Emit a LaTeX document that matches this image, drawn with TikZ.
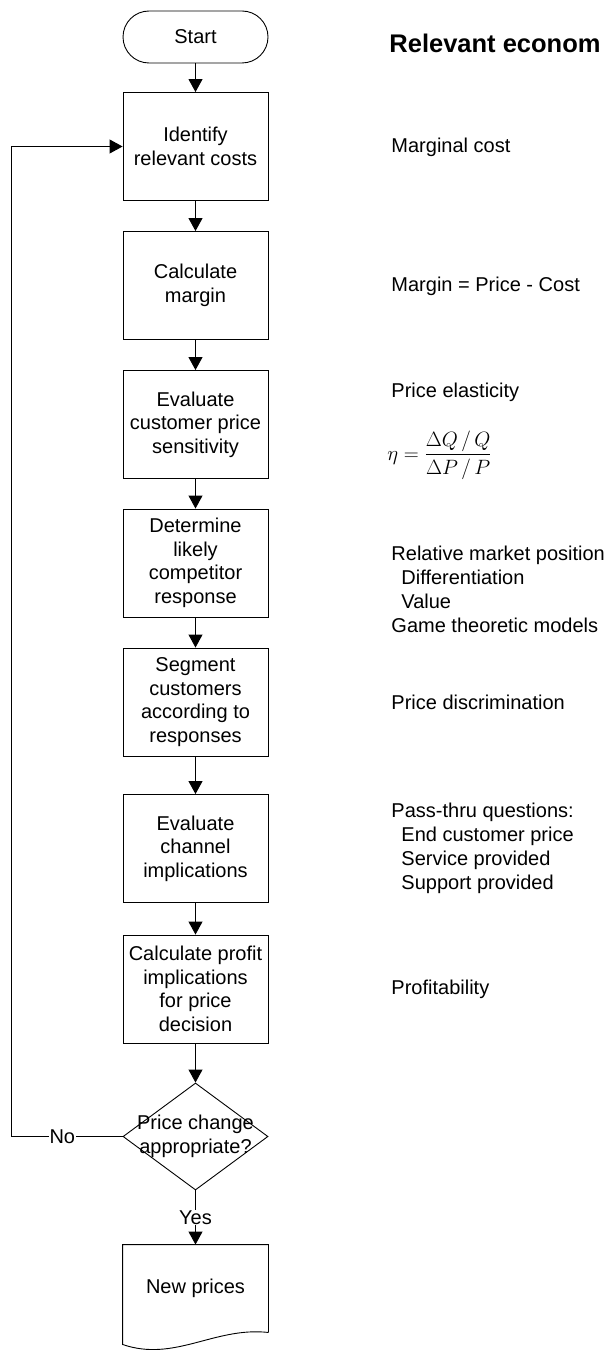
\documentclass[tikz,border=0pt]{standalone}
\usepackage{amsmath}
\usepackage{fontspec}
\setmainfont{Liberation Sans}
\usetikzlibrary{arrows.meta,shapes.geometric,calc}

\begin{document}
\begin{tikzpicture}[x=1pt,y=-1pt,line width=.9pt,>={Triangle[width=14pt,length=13pt]},
  every node/.style={font=\fontsize{20}{23.5}\selectfont},
  terminal/.style={draw,rounded corners=26pt,minimum width=145pt,minimum height=52pt},
  stepbox/.style={draw,align=center,minimum width=145pt,minimum height=108pt,inner sep=2pt},
  decision/.style={draw,diamond,minimum width=145pt,minimum height=107pt,inner sep=0pt},
  note/.style={anchor=west,align=left,inner sep=0pt,font=\fontsize{20}{24}\selectfont},
  tag/.style={fill=white,inner sep=1pt}]
% Page frame: one unit is one pixel of the sheet, y runs down.
\useasboundingbox (0,0) rectangle (608,1351);
\node[terminal] (start) at (195.5,37) {Start};
\node[stepbox] (b1) at (195.5,146.5) {Identify\\relevant costs};
\node[stepbox] (b2) at (195.5,285.5) {Calculate\\margin};
\node[stepbox] (b3) at (195.5,424.5) {Evaluate\\customer price\\sensitivity};
\node[stepbox] (b4) at (195.5,563) {Determine\\likely\\competitor\\response};
\node[stepbox] (b5) at (195.5,702) {Segment\\customers\\according to\\responses};
\node[stepbox] (b6) at (195.5,848.5) {Evaluate\\channel\\implications};
\node[stepbox] (b7) at (195.5,989) {Calculate profit\\implications\\for price\\decision};
\node[decision] (dec) at (195.5,1136.5) {};
\node[align=center] (dectext) at (dec) {Price change\\appropriate?};
\node[minimum width=145pt,minimum height=87pt,inner sep=0pt] (doc) at (195.5,1288.5) {New prices};
\draw (doc.south east) -- (doc.north east) -- (doc.north west) -- ($(doc.south west)+(0,12)$)
  .. controls ($(doc.south west)+(52,30)$) and ($(doc.south west)+(92,-6)$) .. (doc.south east);
% flow
\draw[->] (start) -- (b1);
\draw[->] (b1) -- (b2);
\draw[->] (b2) -- (b3);
\draw[->] (b3) -- (b4);
\draw[->] (b4) -- (b5);
\draw[->] (b5) -- (b6);
\draw[->] (b6) -- (b7);
\draw[->] (b7) -- (dec);
\draw[->] (dec) -- node[tag] {Yes} (doc);
\coordinate (loop) at (11,1136.5);
\draw[->] (dec.west) -- node[tag,pos=.54] {No} (loop) |- (b1.west);
% economics column
\node[note,font=\fontsize{25.5}{30}\selectfont\bfseries] (title) at (389,43) {Relevant econom};
\node[note] (mc) at (391,147) {Marginal cost};
\node[note] (margin) at (391,286) {Margin = Price - Cost};
\node[note] (elast) at (391,392) {Price elasticity};
\node[note,font=\fontsize{22}{26}\selectfont] (eta) at (387,455) {$\eta=\dfrac{\Delta Q\,/\,Q}{\Delta P\,/\,P}$};
\node[note] (market) at (391,589.5) {Relative market position\\\hspace*{10pt}Differentiation\\\hspace*{10pt}Value\\Game theoretic models};
\node[note] (discr) at (391,702) {Price discrimination};
\node[note] (pass) at (391,848) {Pass-thru questions:\\\hspace*{10pt}End customer price\\\hspace*{10pt}Service provided\\\hspace*{10pt}Support provided};
\node[note] (profit) at (391,989) {Profitability};
\end{tikzpicture}
\end{document}
